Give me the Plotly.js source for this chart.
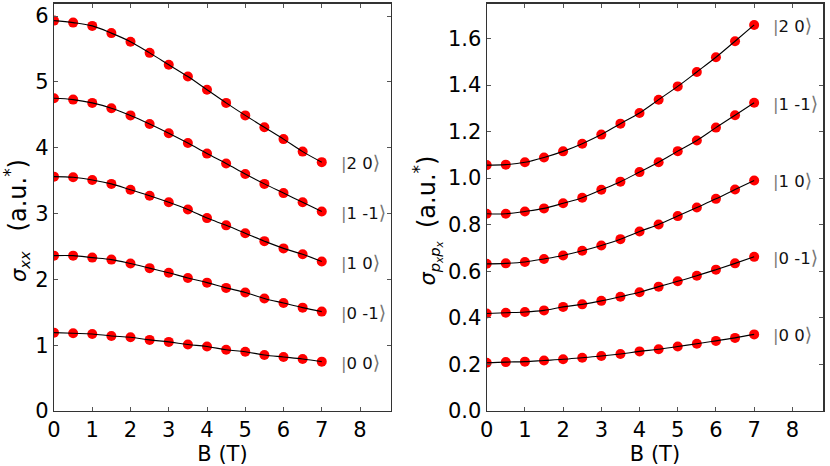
<!DOCTYPE html>
<html><head><meta charset="utf-8">
<script src="https://cdn.plot.ly/plotly-3.0.1.min.js"></script>
<style>body{margin:0;background:#fff}#c{width:830px;height:466px}</style>
</head><body><div id="c"></div>
<script>
const B = [0,0.5,1,1.5,2,2.5,3,3.5,4,4.5,5,5.5,6,6.5,7];
const stateLabels = ['|2 0⟩','|1 -1⟩','|1 0⟩','|0 -1⟩','|0 0⟩'];

const sxx_20  = [5.93,5.90,5.85,5.74,5.61,5.44,5.26,5.08,4.88,4.68,4.49,4.31,4.13,3.94,3.78];
const sxx_1m1 = [4.75,4.73,4.68,4.60,4.49,4.36,4.22,4.07,3.91,3.76,3.60,3.45,3.31,3.17,3.03];
const sxx_10  = [3.56,3.55,3.51,3.45,3.36,3.27,3.17,3.06,2.93,2.82,2.70,2.58,2.47,2.38,2.27];
const sxx_0m1 = [2.36,2.36,2.33,2.30,2.24,2.17,2.10,2.02,1.95,1.87,1.80,1.71,1.64,1.57,1.51];
const sxx_00  = [1.19,1.18,1.17,1.14,1.12,1.08,1.05,1.01,0.98,0.93,0.90,0.85,0.82,0.79,0.75];

const spp_20  = [1.056,1.058,1.068,1.089,1.115,1.148,1.187,1.234,1.280,1.337,1.394,1.456,1.519,1.588,1.658];
const spp_1m1 = [0.847,0.847,0.857,0.870,0.892,0.916,0.950,0.985,1.026,1.068,1.116,1.162,1.217,1.270,1.324];
const spp_10  = [0.632,0.634,0.640,0.653,0.668,0.688,0.711,0.738,0.771,0.801,0.837,0.874,0.911,0.951,0.990];
const spp_0m1 = [0.419,0.422,0.425,0.432,0.447,0.458,0.473,0.491,0.510,0.534,0.557,0.581,0.607,0.634,0.662];
const spp_00  = [0.207,0.210,0.212,0.217,0.222,0.229,0.236,0.245,0.256,0.265,0.277,0.289,0.301,0.314,0.329];

const leftSeries = [sxx_20, sxx_1m1, sxx_10, sxx_0m1, sxx_00];
const rightSeries = [spp_20, spp_1m1, spp_10, spp_0m1, spp_00];
const xTicks = [0,1,2,3,4,5,6,7,8];

const FONT = 'DejaVu Sans, Liberation Sans, sans-serif';
const traces = [];
const annotations = [];
function addSeries(arr, xa, ya){
  arr.forEach((ys, i) => {
    traces.push({x:B, y:ys, xaxis:xa, yaxis:ya, mode:'markers', type:'scatter',
      marker:{color:'#ff0000', size:10, line:{width:0}}, hoverinfo:'skip', showlegend:false});
    traces.push({x:B, y:ys, xaxis:xa, yaxis:ya, mode:'lines', type:'scatter',
      line:{color:'#000', width:1.1, shape:'spline', smoothing:1}, hoverinfo:'skip', showlegend:false});
    const lab = stateLabels[i];
    const inner = lab.slice(1, lab.length-1);
    annotations.push({x:7.45, y:ys[ys.length-1], xref:xa, yref:ya, xanchor:'left', yanchor:'middle',
      showarrow:false, text:'<span style="color:#777">|</span>'+inner+'<span style="color:#777;font-size:19px">⟩</span>',
      font:{family:FONT, size:16.5, color:'#111'}});
  });
}
addSeries(leftSeries, 'x', 'y');
addSeries(rightSeries, 'x2', 'y2');

function axis(extra){
  return Object.assign({showgrid:false, zeroline:false, showline:true, linecolor:'#333', linewidth:1.2,
    mirror:'allticks', ticks:'inside', ticklen:4, tickcolor:'#555', tickwidth:1,
    tickfont:{family:FONT, size:21, color:'#000'}}, extra);
}
const yTop = 1-3.5/466, yBot = (466-411)/466;
const yTitleL = '<i>σ<sub>xx</sub></i>&nbsp;&nbsp;&nbsp;<span style="font-size:24px">(a.u.<sup>*</sup>)</span>&nbsp;&nbsp;&nbsp;&nbsp;';
const yTitleR = '<i>σ<sub>p<sub>x</sub>p<sub>x</sub></sub></i>&nbsp;&nbsp;<span style="font-size:24px">(a.u.<sup>*</sup>)</span>&nbsp;&nbsp;&nbsp;&nbsp;';
const layout = {
  width:830, height:466, margin:{l:0,r:0,t:0,b:0}, paper_bgcolor:'#fff', plot_bgcolor:'#fff',
  showlegend:false, font:{family:FONT},
  xaxis: axis({domain:[54/830, 391/830], range:[0,8.81], tickvals:xTicks, anchor:'y',
    title:{text:'B (T)', font:{family:FONT, size:21, color:'#000'}, standoff:0}}),
  yaxis: axis({domain:[yBot,yTop], range:[0,6.19], tickvals:[0,1,2,3,4,5,6], anchor:'x',
    title:{text:yTitleL, font:{family:FONT, size:21, color:'#000'}, standoff:6}}),
  xaxis2: axis({domain:[486.7/830, 823.3/830], range:[0,8.81], tickvals:xTicks, anchor:'y2',
    title:{text:'B (T)', font:{family:FONT, size:21, color:'#000'}, standoff:0}}),
  yaxis2: axis({domain:[yBot,yTop], range:[0,1.75], tickvals:[0,0.2,0.4,0.6,0.8,1.0,1.2,1.4,1.6], tickformat:'.1f', anchor:'x2',
    title:{text:yTitleR, font:{family:FONT, size:21, color:'#000'}, standoff:6}}),
  annotations: annotations
};
Plotly.newPlot('c', traces, layout, {staticPlot:true, displayModeBar:false});
</script></body></html>
